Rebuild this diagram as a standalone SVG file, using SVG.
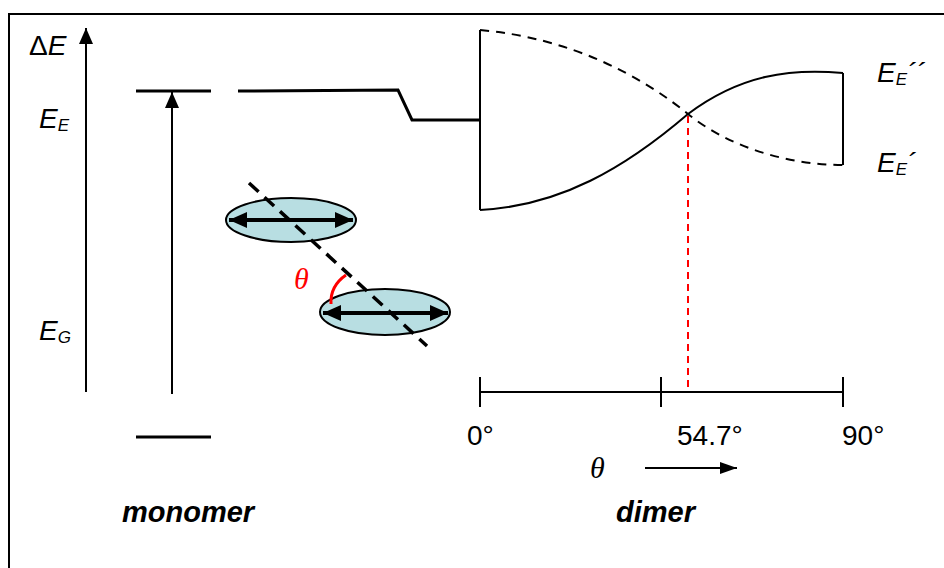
<svg xmlns="http://www.w3.org/2000/svg" width="944" height="568" viewBox="0 0 944 568">
<defs>
<style>
.t{font-family:"Liberation Sans",Arial,sans-serif;fill:#000;font-size:28px}
.i{font-style:italic}
.b{font-weight:bold;font-size:29px}
.s{font-size:17px}
.ln{stroke:#000;fill:none}
.th{font-family:"Liberation Serif","Times New Roman",serif;font-style:italic;font-size:30px}
</style>
<marker id="ah" viewBox="0 0 17 12" refX="17" refY="6" markerWidth="17" markerHeight="12" markerUnits="userSpaceOnUse" orient="auto">
<path d="M0,0 L17,6 L0,12 z" fill="#000"/>
</marker>
<marker id="big" viewBox="0 0 16 14" refX="16" refY="7" markerWidth="16" markerHeight="14" markerUnits="userSpaceOnUse" orient="auto-start-reverse">
<path d="M0,0 L16,7 L0,14 z" fill="#000"/>
</marker>
<marker id="dbl" viewBox="0 0 18 16" refX="18" refY="8" markerWidth="18" markerHeight="16" markerUnits="userSpaceOnUse" orient="auto-start-reverse">
<path d="M0,0 L18,8 L0,16 z" fill="#000"/>
</marker>
</defs>
<rect width="944" height="568" fill="#fff"/>
<rect x="9" y="14" width="1000" height="1000" fill="none" stroke="#000" stroke-width="2"/>

<g id="connectors">
<line class="ln" x1="86" y1="392" x2="86" y2="28" stroke-width="2" marker-end="url(#big)"/>
<line class="ln" x1="172" y1="394" x2="172" y2="92" stroke-width="2" marker-end="url(#big)"/>
<path class="ln" d="M238,91 L398,90 L412,120 L480,120" stroke-width="3"/>
<line class="ln" x1="645" y1="468" x2="737" y2="468" stroke-width="2" marker-end="url(#ah)"/>
</g>

<g id="monomer-levels">
<line class="ln" x1="136" y1="91" x2="211" y2="91" stroke-width="3"/>
<line class="ln" x1="136" y1="437" x2="211" y2="437" stroke-width="3"/>
</g>

<g id="dimer-curves">
<line class="ln" x1="480" y1="30" x2="480" y2="210" stroke-width="2"/>
<line class="ln" x1="843" y1="73" x2="843" y2="165" stroke-width="2"/>
<path class="ln" d="M480,210 C560,206 625,168 688,114 C740,75 790,68 843,73" stroke-width="2"/>
<path class="ln" d="M480,30 C570,38 640,75 688,114 C730,148 790,165 843,165" stroke-width="2" stroke-dasharray="9,7"/>
<line x1="688" y1="116" x2="688" y2="392" stroke="#f00" stroke-width="2" stroke-dasharray="7,5"/>
</g>

<g id="theta-axis">
<line class="ln" x1="480" y1="392" x2="843" y2="392" stroke-width="2"/>
<line class="ln" x1="480" y1="377" x2="480" y2="407" stroke-width="2"/>
<line class="ln" x1="661" y1="377" x2="661" y2="407" stroke-width="2"/>
<line class="ln" x1="843" y1="377" x2="843" y2="407" stroke-width="2"/>
<text class="t" x="467" y="445">0°</text>
<text class="t" x="677" y="445">54.7°</text>
<text class="t" x="842" y="445">90°</text>
<text class="th" x="590" y="478" fill="#000">θ</text>
</g>

<g id="molecules">
<ellipse cx="291" cy="220" rx="65" ry="22" fill="#b8dee2" stroke="#000" stroke-width="2"/>
<line class="ln" x1="229" y1="220" x2="353" y2="220" stroke-width="4" marker-start="url(#dbl)" marker-end="url(#dbl)"/>
<ellipse cx="385" cy="312" rx="65" ry="23" fill="#b8dee2" stroke="#000" stroke-width="2"/>
<line class="ln" x1="323" y1="313" x2="448" y2="313" stroke-width="4" marker-start="url(#dbl)" marker-end="url(#dbl)"/>
<line class="ln" x1="249" y1="183" x2="427" y2="346" stroke-width="3.5" stroke-dasharray="13,8"/>
<path d="M346,275 Q330,286 331,304" fill="none" stroke="#f00" stroke-width="3"/>
<text class="th" x="294" y="289" fill="#f00">θ</text>
</g>

<g id="labels">
<text class="t" x="29" y="55">Δ<tspan class="i">E</tspan></text>
<text class="t i" x="39" y="128">E<tspan class="s" dy="3">E</tspan></text>
<text class="t i" x="39" y="340">E<tspan class="s" dy="3">G</tspan></text>
<text class="t i" x="877" y="82">E<tspan class="s" dy="3">E</tspan><tspan dy="-3">´´</tspan></text>
<text class="t i" x="877" y="172">E<tspan class="s" dy="3">E</tspan><tspan dy="-3">´</tspan></text>
<text class="t i b" x="122" y="522">monomer</text>
<text class="t i b" x="616" y="522">dimer</text>
</g>
</svg>
